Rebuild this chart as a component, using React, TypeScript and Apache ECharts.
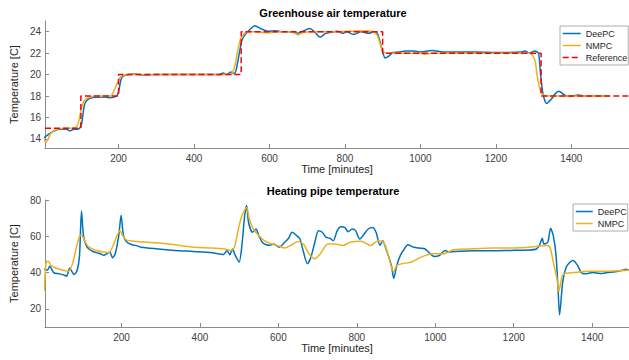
import React, { useEffect, useRef } from "react";
import * as echarts from "echarts";

// ---------- Greenhouse air temperature ----------
const airTimesDeePC = [2, 22, 42, 62, 71, 81, 93, 101, 109, 116, 131, 160, 175, 195, 200, 207, 215, 240, 269, 299, 467, 477, 487, 497, 507, 512, 519, 527, 536, 551, 561, 576, 596, 616, 635, 655, 675, 685, 695, 707, 719, 734, 749, 764, 779, 794, 804, 823, 843, 863, 878, 886, 893, 900, 907, 917, 927, 942, 962, 982, 1001, 1031, 1061, 1090, 1150, 1200, 1268, 1278, 1288, 1303, 1313, 1318, 1325, 1335, 1348, 1357, 1367, 1382, 1397, 1417, 1437, 1500];
const airDeePC = [14.1, 14.6, 14.9, 14.9, 14.75, 14.9, 14.9, 15.25, 17.1, 17.6, 17.85, 17.9, 17.85, 18.0, 18.4, 19.6, 19.9, 20.05, 19.95, 20.0, 20.0, 20.15, 20.0, 20.25, 20.1, 20.5, 21.8, 23.2, 23.75, 24.3, 24.55, 24.3, 24.05, 24.1, 24.0, 24.0, 23.85, 24.0, 24.15, 24.3, 24.0, 23.5, 23.85, 23.95, 24.05, 23.85, 24.0, 23.75, 24.0, 23.85, 24.0, 23.85, 23.06, 22.1, 21.55, 21.75, 22.06, 22.1, 22.2, 22.2, 22.1, 22.25, 22.1, 22.1, 22.1, 22.05, 22.1, 22.2, 22.0, 22.2, 22.0, 20.25, 18.2, 17.3, 17.75, 18.2, 18.45, 18.1, 17.95, 18.1, 18.0, 18.0];

const airTimesNMPC = [2, 8, 20, 40, 85, 94, 101, 110, 128, 150, 180, 184, 193, 203, 213, 240, 400, 495, 502, 509, 516, 523, 535, 555, 600, 620, 660, 676, 690, 720, 780, 840, 875, 885, 892, 899, 910, 1000, 1010, 1030, 1290, 1303, 1310, 1318, 1328, 1340, 1500];
const airNMPC = [14.0, 13.7, 14.5, 14.95, 15.05, 15.6, 16.8, 17.6, 17.95, 18.0, 18.0, 18.2, 18.9, 19.7, 19.95, 20.0, 20.0, 20.0, 20.2, 20.9, 22.3, 23.3, 23.9, 24.0, 23.9, 24.0, 24.0, 23.7, 23.95, 24.0, 24.0, 24.1, 24.0, 23.7, 23.0, 22.3, 22.0, 22.0, 21.9, 22.0, 22.0, 21.4, 19.8, 18.5, 18.05, 18.0, 18.0];

const refStart = 5;
const refEnd = 1553;
const refStepTimes = [100, 200, 525, 900, 1320];
const refLevels = [15, 18, 20, 24, 22, 18];

// ---------- Heating pipe temperature ----------
const pipeTimesDeePC = [3, 11, 17, 27, 41, 55, 60, 68, 74, 79, 87, 93, 98, 103, 110, 117, 127, 136, 146, 155, 163, 170, 177, 184, 193, 199, 205, 214, 227, 236, 250, 288, 336, 383, 431, 460, 469, 476, 483, 490, 500, 507, 514, 519, 524, 534, 543, 550, 559, 569, 578, 588, 602, 616, 626, 635, 645, 655, 664, 674, 683, 693, 702, 712, 721, 731, 740, 750, 759, 769, 778, 788, 797, 807, 816, 829, 840, 849, 859, 866, 873, 883, 889, 894, 902, 911, 921, 930, 945, 959, 973, 983, 997, 1011, 1025, 1035, 1049, 1097, 1144, 1192, 1239, 1258, 1266, 1273, 1277, 1287, 1294, 1301, 1308, 1313, 1317, 1325, 1334, 1344, 1351, 1363, 1372, 1382, 1401, 1420, 1439, 1458, 1477, 1486, 1494];
const pipeDeePC = [42.0, 41.3, 43.5, 40.0, 39.3, 38.5, 38.0, 42.5, 40.4, 38.9, 41.3, 49.5, 74.0, 60.4, 55.0, 53.0, 51.6, 51.0, 50.4, 49.5, 50.4, 51.3, 48.2, 50.4, 60.4, 71.6, 60.4, 56.7, 55.3, 55.0, 54.0, 53.1, 52.2, 51.6, 50.9, 50.0, 52.2, 49.8, 53.0, 49.5, 45.8, 55.0, 71.3, 77.0, 67.6, 62.2, 64.0, 60.4, 56.7, 55.3, 55.0, 55.8, 54.0, 56.7, 58.9, 62.2, 60.7, 58.5, 51.3, 44.9, 48.5, 56.7, 63.1, 62.2, 59.5, 58.9, 57.6, 63.1, 65.3, 64.9, 62.5, 64.0, 63.1, 58.5, 60.4, 64.0, 64.9, 62.2, 55.0, 57.6, 54.0, 47.6, 43.1, 36.7, 44.0, 49.5, 53.0, 55.3, 54.0, 53.5, 53.1, 51.3, 48.9, 49.5, 52.2, 51.3, 51.6, 52.0, 52.0, 52.2, 52.4, 53.0, 55.3, 58.9, 55.8, 56.7, 64.4, 60.4, 49.5, 31.3, 16.7, 34.9, 43.1, 45.8, 46.7, 44.0, 40.0, 39.3, 40.0, 39.5, 40.0, 40.4, 41.3, 41.8, 41.3];

const pipeTimesNMPC = [3, 8, 13, 20, 32, 51, 65, 75, 84, 93, 98, 108, 117, 136, 155, 167, 179, 189, 196, 203, 212, 241, 288, 336, 384, 431, 460, 479, 488, 498, 507, 519, 526, 536, 550, 564, 583, 602, 616, 631, 650, 664, 678, 693, 707, 726, 745, 764, 783, 811, 835, 854, 868, 878, 887, 894, 902, 916, 940, 964, 992, 1021, 1049, 1097, 1144, 1201, 1239, 1282, 1292, 1301, 1311, 1315, 1323, 1330, 1353, 1391, 1429, 1494];
const pipeNMPC = [30.0, 45.8, 46.2, 44.0, 42.5, 41.3, 40.7, 44.9, 53.0, 60.0, 60.7, 56.7, 54.0, 52.2, 51.3, 50.9, 55.0, 60.7, 63.1, 60.4, 58.0, 57.1, 56.4, 55.3, 54.0, 53.6, 53.1, 52.2, 54.0, 64.0, 71.3, 75.8, 69.5, 64.0, 60.4, 57.6, 55.8, 54.5, 53.5, 54.9, 57.1, 55.8, 50.4, 47.6, 50.4, 55.8, 55.8, 54.9, 56.7, 57.3, 54.9, 57.6, 56.7, 51.3, 44.0, 40.4, 44.0, 44.9, 45.8, 48.5, 50.4, 50.4, 52.7, 53.1, 53.5, 53.6, 54.0, 54.9, 54.0, 45.8, 35.8, 29.5, 37.7, 39.5, 40.0, 40.7, 40.7, 41.3];

// ---------- Axes ticks ----------
const xTicks = [200, 400, 600, 800, 1000, 1200, 1400];
const airYTicks = [14, 16, 18, 20, 22, 24];
const pipeYTicks = [20, 40, 60, 80];

const BLUE = "#0072BD";
const YELLOW = "#EDB120";
const RED = "#FF0000";
const FONT = "'Liberation Sans', Arial, Helvetica, sans-serif";
const AXIS_COLOR = "#8a8a8a";
const TEXT_COLOR = "#262626";

const zip = (t: number[], v: number[]) => t.map((x, i) => [x, v[i]]);

function buildRef() {
  const pts: number[][] = [[refStart, refLevels[0]]];
  refStepTimes.forEach((t, i) => {
    pts.push([t, refLevels[i]]);
    pts.push([t, refLevels[i + 1]]);
  });
  pts.push([refEnd, refLevels[refLevels.length - 1]]);
  return pts;
}

const fmt = (v: number) => String(v);

function xAxis(gridIndex: number, min: number, max: number) {
  return {
    type: "value",
    gridIndex,
    min,
    max,
    name: "Time [minutes]",
    nameLocation: "middle",
    nameGap: 14,
    nameTextStyle: { fontFamily: FONT, fontSize: 11, color: TEXT_COLOR },
    axisLine: { show: true, lineStyle: { color: AXIS_COLOR, width: 1 } },
    axisTick: { show: true, inside: true, length: 4, customValues: xTicks, lineStyle: { color: AXIS_COLOR } },
    axisLabel: { customValues: xTicks, formatter: fmt, fontFamily: FONT, fontSize: 10, color: "#404040", margin: 5 },
    splitLine: { show: false },
  };
}

function yAxis(gridIndex: number, min: number, max: number, ticks: number[]) {
  return {
    type: "value",
    gridIndex,
    min,
    max,
    name: "Temperature [C]",
    nameLocation: "middle",
    nameGap: 18,
    nameRotate: 90,
    nameTextStyle: { fontFamily: FONT, fontSize: 11, color: TEXT_COLOR },
    axisLine: { show: true, lineStyle: { color: AXIS_COLOR, width: 1 } },
    axisTick: { show: true, inside: true, length: 4, customValues: ticks, lineStyle: { color: AXIS_COLOR } },
    axisLabel: { customValues: ticks, formatter: fmt, fontFamily: FONT, fontSize: 10, color: "#404040", margin: 4 },
    splitLine: { show: false },
  };
}

function lineSeries(name: string, xi: number, data: number[][], color: string, dashed = false) {
  return {
    type: "line",
    name,
    xAxisIndex: xi,
    yAxisIndex: xi,
    data,
    symbol: "none",
    showSymbol: false,
    smooth: dashed ? false : 0.25,
    lineStyle: { color, width: 1.5, type: dashed ? [6, 3] : "solid" },
    itemStyle: { color },
    z: dashed ? 5 : 3,
  };
}

export default function App() {
  const ref = useRef<HTMLDivElement>(null);
  useEffect(() => {
    if (!ref.current) return;
    const chart = echarts.init(ref.current, undefined, { renderer: "svg" });
    const legendCommon = {
      orient: "vertical",
      itemHeight: 8,
      itemGap: 3,
      backgroundColor: "#fff",
      borderColor: "#9a9a9a",
      borderWidth: 0.8,
      borderRadius: 0,
      selectedMode: false,
      itemStyle: { color: "transparent", borderWidth: 0, opacity: 0 },
      lineStyle: { width: 1.5 },
      textStyle: { fontFamily: FONT, fontSize: 9, color: TEXT_COLOR },
    };
    chart.setOption({
      animation: false,
      backgroundColor: "#fff",
      grid: [
        { left: 36, top: 21, width: 593, height: 127, containLabel: false },
        { left: 36, top: 200, width: 593, height: 127, containLabel: false },
      ],
      xAxis: [xAxis(0, 5, 1553), xAxis(1, 5, 1494)],
      yAxis: [yAxis(0, 13.15, 25, airYTicks), yAxis(1, 10, 80, pipeYTicks)],
      legend: [
        { ...legendCommon, data: ["DeePC", "NMPC", "Reference"], left: 560, top: 26, itemWidth: 18, padding: [3, 1, 3, 2] },
        { ...legendCommon, data: ["DeePC", "NMPC"], left: 573, top: 204, itemWidth: 17, padding: [3, 1, 3, 2] },
      ],
      graphic: [
        {
          type: "text",
          x: 333,
          y: 13,
          style: { text: "Greenhouse air temperature", font: `bold 11px ${FONT}`, fill: "#000", textAlign: "center", textVerticalAlign: "middle", align: "center", verticalAlign: "middle" },
        },
        {
          type: "text",
          x: 333,
          y: 191,
          style: { text: "Heating pipe temperature", font: `bold 11px ${FONT}`, fill: "#000", textAlign: "center", textVerticalAlign: "middle", align: "center", verticalAlign: "middle" },
        },
      ],
      series: [
        lineSeries("DeePC", 0, zip(airTimesDeePC, airDeePC), BLUE),
        lineSeries("NMPC", 0, zip(airTimesNMPC, airNMPC), YELLOW),
        lineSeries("Reference", 0, buildRef(), RED, true),
        lineSeries("DeePC", 1, zip(pipeTimesDeePC, pipeDeePC), BLUE),
        lineSeries("NMPC", 1, zip(pipeTimesNMPC, pipeNMPC), YELLOW),
      ],
    });
    return () => chart.dispose();
  }, []);
  return <div ref={ref} style={{ position: "absolute", left: 0, top: 0, width: 629, height: 360 }} />;
}
